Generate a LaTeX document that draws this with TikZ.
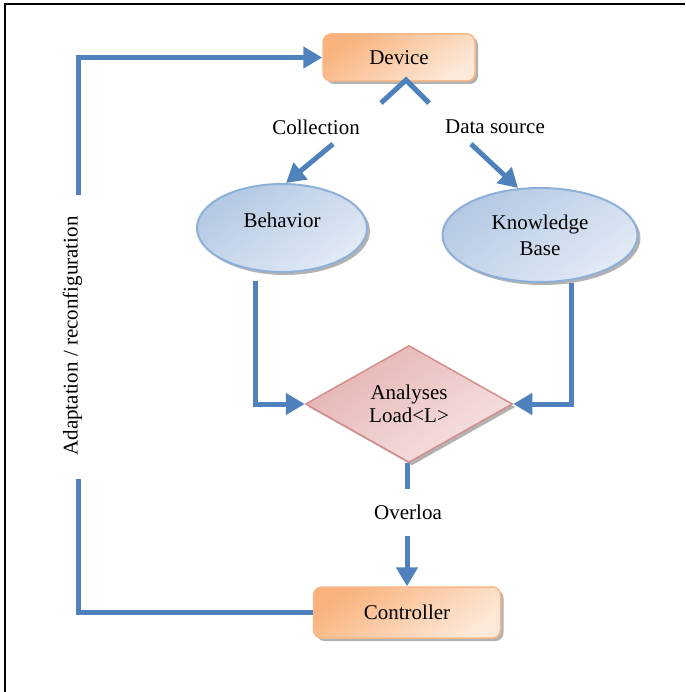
\documentclass[tikz,border=0pt]{standalone}
\usepackage{fontspec}
\setmainfont{Liberation Serif}
\usetikzlibrary{shapes.geometric,arrows.meta,shadows}
\definecolor{arrowblue}{HTML}{4F81BD}
\definecolor{orangeA}{HTML}{F9B27C}
\definecolor{orangeB}{HTML}{FDE9D9}
\definecolor{orangeEdge}{HTML}{F8B888}
\definecolor{blueA}{HTML}{B3C8E3}
\definecolor{blueB}{HTML}{E2EAF5}
\definecolor{blueEdge}{HTML}{8DB0D8}
\definecolor{pinkA}{HTML}{E4B3B2}
\definecolor{pinkB}{HTML}{F6E3E2}
\definecolor{pinkEdge}{HTML}{D58E8C}
\begin{document}
\begin{tikzpicture}[x=1pt,y=-1pt,
  every node/.style={font=\fontsize{21}{25}\selectfont},
  flow/.style={draw=arrowblue,line width=5pt,line join=miter},
  tipped/.style={-{Triangle[length=19pt,width=21pt]}},
  shadowed/.style={drop shadow={shadow xshift=3pt,shadow yshift=-3pt,fill=black!55,opacity=0.55}},
  boxnode/.style={rectangle,rounded corners=8pt,draw=orangeEdge,line width=1.5pt,
    top color=orangeA,bottom color=orangeB,shading angle=35,shadowed},
  ellnode/.style={ellipse,draw=blueEdge,line width=2pt,inner sep=0pt,
    top color=blueA,bottom color=blueB,shading angle=35,shadowed},
  decnode/.style={diamond,draw=pinkEdge,line width=1.5pt,inner sep=0pt,aspect=1.77,
    top color=pinkA,bottom color=pinkB,shading angle=35,shadowed}]
\useasboundingbox (0,0) rectangle (685,692);
% frame (top and left edges)
\draw[line width=2pt] (4.5,692) -- (4.5,4) -- (685,4);

% nodes
\node[boxnode,minimum width=152pt,minimum height=47pt] (device) at (399,57.5) {Device};
\node[ellnode,minimum width=170pt,minimum height=88pt,
  label={[yshift=8pt]center:Behavior}] (behavior) at (282,228) {};
\node[ellnode,minimum width=195pt,minimum height=94pt,align=center,
  font=\fontsize{21}{26}\selectfont] (kb) at (540,235) {Knowledge\\Base};
\node[decnode,minimum width=207pt,minimum height=117pt,align=center,
  font=\fontsize{21}{23}\selectfont] (analyses) at (409,404) {Analyses\\Load<L>};
\node[boxnode,minimum width=187pt,minimum height=51pt] (controller) at (407,612.5) {Controller};

% labels
\node (collection) at (316,127) {Collection};
\node (datasource) at (495,127) {Data source};
\node[rotate=90] (adapt) at (72.5,336) {Adaptation / reconfiguration};

% device -> behavior / knowledge base (interrupted by labels)
\coordinate (apex) at (406,80);
\coordinate (lcut1) at (381,103);
\coordinate (rcut1) at (429,103);
\coordinate (lcut2) at (333,144);
\coordinate (rcut2) at (471,144);
\draw[flow] (lcut1) -- (apex) -- (rcut1);
\draw[flow,tipped] (lcut2) -- ([xshift=4pt]behavior.north);
\draw[flow,tipped] (rcut2) -- ([xshift=-22pt,yshift=-1pt]kb.north);

% behavior / kb -> analyses
\draw[flow,tipped] ([xshift=-27pt,yshift=-8pt]behavior.south) |- (analyses.west);
\draw[flow,tipped] ([xshift=31pt]kb.south) |- (analyses.east);

% analyses -> controller with label
\draw[flow,tipped] (analyses.south -| controller.north) -- (controller.north);
\node[fill=white,inner xsep=4pt,minimum height=47pt] (overload) at (408,512) {Overloa};

% controller -> device loop
\coordinate (lowend) at (78,479);
\coordinate (highend) at (78,195);
\draw[flow] (controller.west) -| (lowend);
\draw[flow,tipped] (highend) |- (device.west);
\end{tikzpicture}
\end{document}
